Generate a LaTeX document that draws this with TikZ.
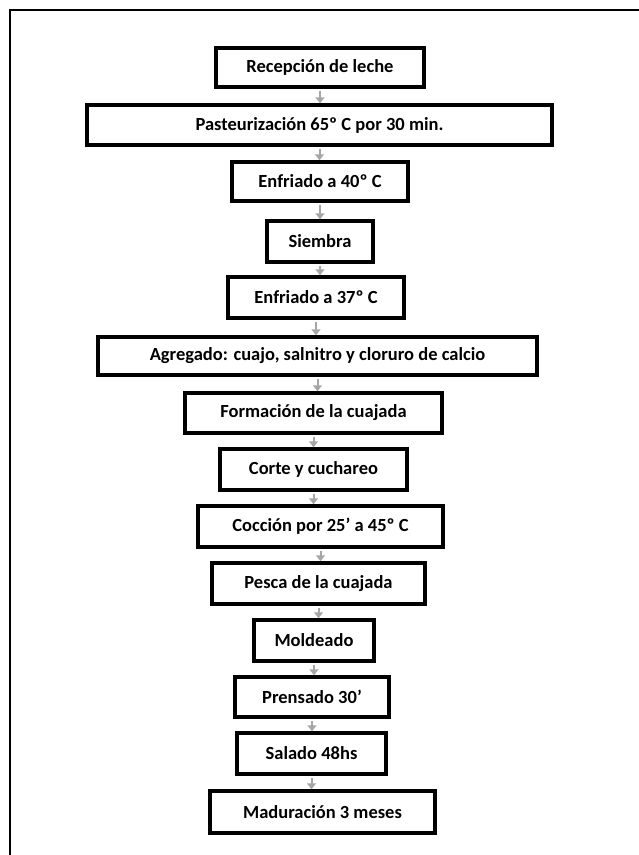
\documentclass[tikz,border=0pt]{standalone}
\usepackage{fontspec}
\setmainfont{Carlito}
\usetikzlibrary{arrows.meta}
\begin{document}
\begin{tikzpicture}[x=1pt,y=-1pt,
  stepbox/.style={draw=black, line width=3.5pt, fill=white, font=\fontsize{18.5}{20}\selectfont\bfseries, inner sep=0pt, align=center},
  conn/.style={draw=gray!70, line width=2pt, -{Triangle[length=6pt,width=9pt]}},
  frameline/.style={line width=2.5pt, black}]
\useasboundingbox (0,0) rectangle (639,855);
\fill[white] (0,0) rectangle (639,855);
\draw[frameline] (10,855) -- (10,10) -- (639,10);

\node[stepbox, minimum width=208pt, minimum height=39pt] (n1) at (320,67.5) {Recepción de leche};
\node[stepbox, minimum width=465pt, minimum height=40pt] (n2) at (319.5,125) {Pasteurización 65º C por 30 min.};
\node[stepbox, minimum width=176pt, minimum height=39pt] (n3) at (320,181.5) {Enfriado a 40º C};
\node[stepbox, minimum width=106pt, minimum height=41pt] (n4) at (320,241.5) {Siembra};
\node[stepbox, minimum width=176pt, minimum height=41pt] (n5) at (316,297.5) {Enfriado a 37º C};
\node[stepbox, minimum width=439pt, minimum height=38pt] (n6) at (317.5,356) {Agregado: cuajo, salnitro y cloruro de calcio};
\node[stepbox, minimum width=257pt, minimum height=40pt] (n7) at (313.5,413) {Formación de la cuajada};
\node[stepbox, minimum width=187pt, minimum height=41pt] (n8) at (313.5,469.5) {Corte y cuchareo};
\node[stepbox, minimum width=245pt, minimum height=41pt] (n9) at (320.5,526.5) {Cocción por 25' a 45º C};
\node[stepbox, minimum width=213pt, minimum height=41pt] (n10) at (318.5,583.5) {Pesca de la cuajada};
\node[stepbox, minimum width=120pt, minimum height=41pt] (n11) at (314,640.5) {Moldeado};
\node[stepbox, minimum width=154pt, minimum height=40pt] (n12) at (312,697) {Prensado 30'};
\node[stepbox, minimum width=149pt, minimum height=41pt] (n13) at (311.5,753.5) {Salado 48hs};
\node[stepbox, minimum width=225pt, minimum height=42pt] (n14) at (322.5,812) {Maduración 3 meses};

\foreach \a/\b in {n1/n2,n2/n3,n3/n4,n4/n5,n5/n6,n6/n7,n7/n8,n8/n9,n9/n10,n10/n11,n11/n12,n12/n13,n13/n14}
  \draw[conn] (\a.south) ++(0,1.75) -- (\a.south |- \b.north);
\end{tikzpicture}
\end{document}
